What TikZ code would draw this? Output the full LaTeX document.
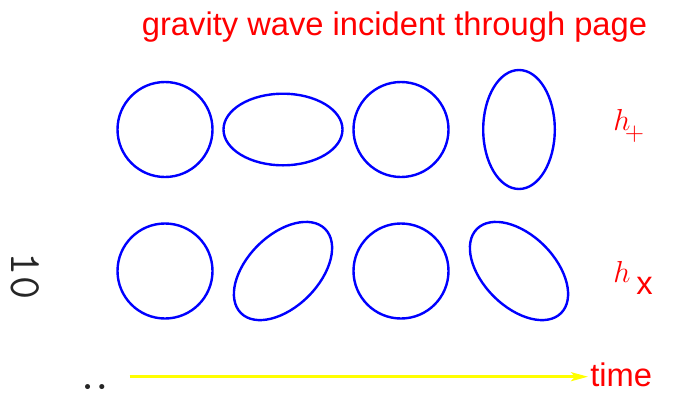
\documentclass[tikz,border=0pt]{standalone}
\usepackage{fontspec}
\setmainfont{Liberation Sans}
\usetikzlibrary{arrows.meta, positioning, calc}

\begin{document}
\begin{tikzpicture}[
    every node/.style={inner sep=0pt},
    ring/.style={draw=ringcolor, line width=0.048cm},
    redlabel/.style={text=labelcolor, font=\fontsize{18.6}{22}\selectfont},
    margintext/.style={text=black!85, font=\ttfamily\fontsize{25.5}{30}\selectfont,
                       rotate=-90, anchor=base},
]

\definecolor{ringcolor}{HTML}{0000FF}   % the ring of test masses
\definecolor{labelcolor}{HTML}{FF0000}
\definecolor{timecolor}{HTML}{FFFF00}

\def\ya{5.25}   % row of h_+
\def\yb{2.42}   % row of h_x

% ================================================================
% A ring of free particles seen face on, at four moments of one
% period of the wave. Columns at x = 3.30, 5.66, 8.02, 10.38.
% Circle radius 0.95; stretched state 1.19 x 0.716.
% ================================================================

\useasboundingbox (0,0) rectangle (13.74,7.84);

% ---------------------------------------------------------------- title
\node[redlabel, anchor=base] (title) at (7.89, 7.14)
    {gravity wave incident through page};

% ---------------------------------------------------------------- plus
\foreach \x/\rx/\ry/\ang in {3.30/0.95/0.95/0, 5.66/1.19/0.716/0,
                             8.02/0.95/0.95/0, 10.38/1.19/0.716/90} {
  \draw[ring] (\x, \ya) ellipse [x radius=\rx, y radius=\ry, rotate=\ang];
}
\node[redlabel, anchor=base west] (hplus) at (12.26, 5.24)
    {$h$\hspace{-0.11cm}\raisebox{-0.212cm}{\fontsize{15}{18}\selectfont$+$}};

% ---------------------------------------------------------------- cross
\foreach \x/\rx/\ry/\ang in {3.30/0.95/0.95/0, 5.66/1.19/0.716/45,
                             8.02/0.95/0.95/0, 10.38/1.19/0.716/-45} {
  \draw[ring] (\x, \yb) ellipse [x radius=\rx, y radius=\ry, rotate=\ang];
}
\node[redlabel, anchor=base west] (hcross) at (12.26, 2.186)
    {$h$\hspace{0.12cm}\raisebox{-0.226cm}{x}};

% ---------------------------------------------------------------- time axis
\node[redlabel, anchor=base west] (time) at (11.80, 0.106) {time};
\coordinate (tstart) at (2.59, 0.306);
\draw[timecolor, line width=0.05cm, -{Stealth[length=0.34cm, width=0.18cm, inset=0.08cm]}]
    (tstart) -- ($(tstart -| time.west) + (-0.04, 0)$);

% ---------------------------------------------------------------- margin
\node[margintext] (pageno) at (0.234, 2.32) {10};
\node[margintext] (colon) at (1.70, 0.10) {:};

\end{tikzpicture}
\end{document}
